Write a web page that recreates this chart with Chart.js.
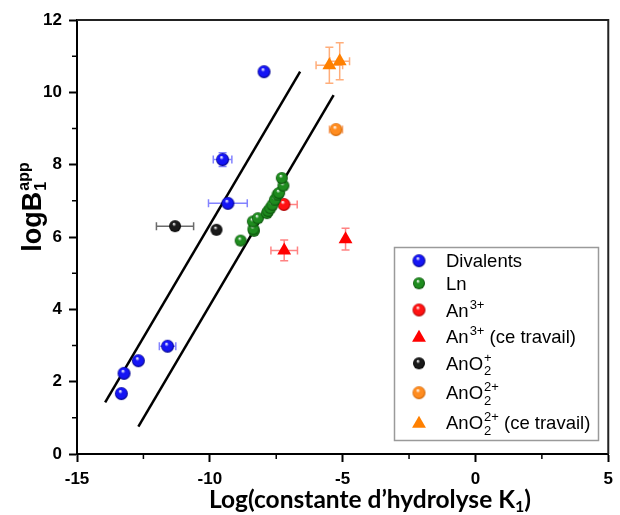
<!DOCTYPE html>
<html><head><meta charset="utf-8">
<script src="https://cdn.jsdelivr.net/npm/chart.js@4.4.1/dist/chart.umd.min.js"></script>
<style>html,body{margin:0;padding:0;background:#fff;}#wrap{width:620px;height:515px;position:relative;}</style>
</head><body><div id="wrap"><canvas id="c" width="620" height="515"></canvas></div>
<script>
// ---- axis ticks ----
const xTicks = [-15, -10, -5, 0, 5];
const yTicks = [0, 2, 4, 6, 8, 10, 12];
const xMinorTicks = [-12.5, -7.5, -2.5, 2.5];
const yMinorTicks = [1, 3, 5, 7, 9, 11];

// ---- Divalents ----
const divX    = [-7.96, -9.52, -9.32, -11.59, -12.69, -13.23, -13.33];
const divY    = [10.57, 8.14, 6.93, 2.98, 2.58, 2.23, 1.67];
const divErrX = [0, 0.35, 0.73, 0.31, 0, 0, 0];
const divErrY = [0, 0.19, 0, 0, 0, 0, 0];
// ---- Ln ----
const lnX = [-8.84, -8.34, -8.36, -8.38, -8.19, -7.85, -7.80, -7.72, -7.64, -7.55, -7.45, -7.39, -7.23, -7.29];
const lnY = [5.90, 6.17, 6.22, 6.43, 6.52, 6.66, 6.72, 6.80, 6.89, 7.03, 7.17, 7.22, 7.42, 7.63];
// ---- An3+ ----
const an3X = [-7.21];
const an3Y = [6.90];
const an3ErrX = [0.50];
// ---- An3+ (ce travail) ----
const an3tX = [-7.20, -4.89];
const an3tY = [5.63, 5.94];
const an3tErrX = [0.50, 0];
const an3tErrY = [0.29, 0.30];
// ---- AnO2+ ----
const ano2X = [-11.31, -9.75];
const ano2Y = [6.30, 6.20];
const ano2ErrX = [0.70, 0];
// ---- AnO2 2+ ----
const ano22X = [-5.25];
const ano22Y = [8.97];
const ano22ErrX = [0.25];
// ---- AnO2 2+ (ce travail) ----
const ano22tX = [-5.50, -5.11];
const ano22tY = [10.75, 10.86];
const ano22tErrX = [0.50, 0.37];
const ano22tErrY = [0.50, 0.51];
// ---- correlation lines ----
const line1X = [-13.94, -6.60];
const line1Y = [1.43, 10.57];
const line2X = [-12.69, -5.34];
const line2Y = [0.76, 9.92];

const legendItems = [
  [{t:'Divalents'}],
  [{t:'Ln'}],
  [{t:'An'},{sup:'3+'}],
  [{t:'An'},{sup:'3+'},{t:' (ce travail)'}],
  [{t:'AnO'},{sup:'+',sub:'2'}],
  [{t:'AnO'},{sup:'2+',sub:'2'}],
  [{t:'AnO'},{sup:'2+',sub:'2'},{t:' (ce travail)'}]
];

function pts(xs, ys){ return xs.map((x,i)=>({x:x, y:ys[i]})); }

function sphere(color, dark, r){
  const c = document.createElement('canvas');
  const s = Math.ceil(2*r+2); c.width = s; c.height = s;
  const g = c.getContext('2d');
  const cx = s/2, cy = s/2;
  const grad = g.createRadialGradient(cx - r*0.2, cy - r*0.4, r*0.05, cx, cy, r);
  grad.addColorStop(0, '#ffffff');
  grad.addColorStop(0.3, color);
  grad.addColorStop(0.75, color);
  grad.addColorStop(1, dark);
  g.fillStyle = grad; g.beginPath(); g.arc(cx, cy, r, 0, Math.PI*2); g.fill();
  return c;
}
const R = 6.5;
const sBlue = sphere('#1515f5', '#00007a', R);
const sGreen = sphere('#1f8c1f', '#0a4a0a', 6);
const sRed = sphere('#ff1212', '#a00000', R);
const sBlack = sphere('#1a1a1a', '#000000', 6);
const sOrange = sphere('#ff8c1f', '#c85f00', R);

const datasets = [
  {label:'Divalents', data: pts(divX, divY), pointStyle: sBlue, pointRadius: 6, errX: divErrX, errY: divErrY, errColor:'rgba(90,90,255,0.75)', mk:sBlue},
  {label:'Ln', data: pts(lnX, lnY), pointStyle: sGreen, pointRadius: 6, mk:sGreen},
  {label:'An3+', data: pts(an3X, an3Y), pointStyle: sRed, pointRadius: 6, errX: an3ErrX, errColor:'rgba(255,90,90,0.75)', mk:sRed},
  {label:'An3+ (ce travail)', data: pts(an3tX, an3tY), pointStyle:'triangle', pointRadius: 8, backgroundColor:'#ff0000', borderColor:'#ff0000', borderWidth:0, errX: an3tErrX, errY: an3tErrY, errColor:'rgba(255,90,90,0.75)', mk:'triR'},
  {label:'AnO2+', data: pts(ano2X, ano2Y), pointStyle: sBlack, pointRadius: 6, errX: ano2ErrX, errColor:'rgba(70,70,70,0.8)', mk:sBlack},
  {label:'AnO2 2+', data: pts(ano22X, ano22Y), pointStyle: sOrange, pointRadius: 6, errX: ano22ErrX, errColor:'rgba(255,160,100,0.8)', mk:sOrange},
  {label:'AnO2 2+ (ce travail)', data: pts(ano22tX, ano22tY), pointStyle:'triangle', pointRadius: 8, backgroundColor:'#ff8000', borderColor:'#ff8000', borderWidth:0, errX: ano22tErrX, errY: ano22tErrY, errColor:'rgba(255,160,100,0.85)', mk:'triO'},
  {label:'line1', data: pts(line1X, line1Y), showLine:true, pointRadius:0, borderColor:'#000', borderWidth:2.5, fill:false},
  {label:'line2', data: pts(line2X, line2Y), showLine:true, pointRadius:0, borderColor:'#000', borderWidth:2.5, fill:false}
];

const errPlugin = {
  id:'errbars',
  beforeDatasetsDraw(chart){
    const ctx = chart.ctx, xs = chart.scales.x, ys = chart.scales.y;
    const cap = 4;
    chart.data.datasets.forEach(ds=>{
      if(!ds.errX && !ds.errY) return;
      ctx.save(); ctx.strokeStyle = ds.errColor; ctx.lineWidth = 1.5;
      ds.data.forEach((p,i)=>{
        const px = xs.getPixelForValue(p.x), py = ys.getPixelForValue(p.y);
        const ex = ds.errX ? ds.errX[i] : 0, ey = ds.errY ? ds.errY[i] : 0;
        ctx.beginPath();
        if(ex > 0){
          const x1 = xs.getPixelForValue(p.x-ex), x2 = xs.getPixelForValue(p.x+ex);
          ctx.moveTo(x1,py); ctx.lineTo(x2,py);
          ctx.moveTo(x1,py-cap); ctx.lineTo(x1,py+cap);
          ctx.moveTo(x2,py-cap); ctx.lineTo(x2,py+cap);
        }
        if(ey > 0){
          const y1 = ys.getPixelForValue(p.y-ey), y2 = ys.getPixelForValue(p.y+ey);
          ctx.moveTo(px,y1); ctx.lineTo(px,y2);
          ctx.moveTo(px-cap,y1); ctx.lineTo(px+cap,y1);
          ctx.moveTo(px-cap,y2); ctx.lineTo(px+cap,y2);
        }
        ctx.stroke();
      });
      ctx.restore();
    });
  }
};

function drawRich(ctx, x, y, parts, size, bold){
  const w = bold ? 'bold ' : '';
  const fam = '"Liberation Sans", Arial, sans-serif';
  const small = Math.round(size*0.68);
  let cx = x;
  parts.forEach(p=>{
    if(p.t !== undefined){
      ctx.font = w + size + 'px ' + fam;
      ctx.fillText(p.t, cx, y);
      cx += ctx.measureText(p.t).width;
    } else {
      ctx.font = w + small + 'px ' + fam;
      let wd = 0;
      if(p.sup){ ctx.fillText(p.sup, cx+1, y - size*0.42); wd = Math.max(wd, ctx.measureText(p.sup).width); }
      if(p.sub){ ctx.fillText(p.sub, cx+1, y + size*0.3); wd = Math.max(wd, ctx.measureText(p.sub).width); }
      cx += wd + 1;
    }
  });
  return cx - x;
}

function triangle(ctx, x, y, r, color){
  ctx.fillStyle = color; ctx.beginPath();
  for(let k=0;k<3;k++){
    const a = k*2*Math.PI/3;
    const px = x + Math.sin(a)*r, py = y - Math.cos(a)*r;
    if(k===0) ctx.moveTo(px,py); else ctx.lineTo(px,py);
  }
  ctx.closePath(); ctx.fill();
}

const decorPlugin = {
  id:'decor',
  afterDraw(chart){
    const ctx = chart.ctx, a = chart.chartArea, xs = chart.scales.x, ys = chart.scales.y;
    ctx.save();
    // frame top & right
    ctx.strokeStyle = '#222'; ctx.lineWidth = 2;
    ctx.beginPath();
    ctx.moveTo(a.left, a.top); ctx.lineTo(a.right, a.top); ctx.lineTo(a.right, a.bottom);
    ctx.stroke();
    // minor ticks
    ctx.strokeStyle = '#000'; ctx.lineWidth = 1.5;
    ctx.beginPath();
    xMinorTicks.forEach(v=>{ const px = xs.getPixelForValue(v); ctx.moveTo(px, a.bottom); ctx.lineTo(px, a.bottom+5); });
    yMinorTicks.forEach(v=>{ const py = ys.getPixelForValue(v); ctx.moveTo(a.left, py); ctx.lineTo(a.left-5, py); });
    ctx.stroke();

    // legend box
    const lx = 394, ly = 247, lw = 204, lh = 193;
    ctx.fillStyle = '#fff'; ctx.fillRect(lx, ly, lw, lh);
    ctx.strokeStyle = '#9a9a9a'; ctx.lineWidth = 1.5;
    ctx.strokeRect(lx+0.5, ly+0.5, lw, lh);
    const rowY = [260.7, 283.3, 310, 336.7, 363.3, 392.7, 422.7];
    ctx.textBaseline = 'alphabetic'; ctx.textAlign = 'left';
    chart.data.datasets.slice(0,7).forEach((ds,i)=>{
      const my = rowY[i];
      if(ds.mk === 'triR') triangle(ctx, 419, my+1, 8, '#ff0000');
      else if(ds.mk === 'triO') triangle(ctx, 419, my+1, 8, '#ff8000');
      else ctx.drawImage(ds.mk, 419 - ds.mk.width/2, my - ds.mk.height/2);
      ctx.fillStyle = '#000';
      drawRich(ctx, 446, my + 6.5, legendItems[i], 18.5, false);
    });

    // x title
    ctx.fillStyle = '#000';
    const bigF = 'bold 24.5px Lato, "Open Sans", sans-serif';
    const subF = 'bold 16px Lato, "Open Sans", sans-serif';
    ctx.font = bigF;
    const t1 = 'Log(constante d\u2019hydrolyse K';
    const w1 = ctx.measureText(t1).width;
    ctx.font = subF;
    const w2 = ctx.measureText('1').width;
    ctx.font = bigF;
    const w3 = ctx.measureText(')').width;
    const total = w1 + w2 + w3;
    let sx = 370 - total/2;
    const by = 508;
    ctx.fillText(t1, sx, by); sx += w1;
    ctx.font = subF;
    ctx.fillText('1', sx, by + 4); sx += w2;
    ctx.font = bigF;
    ctx.fillText(')', sx, by);

    // y title (rotated)
    ctx.translate(41, 207);
    ctx.rotate(-Math.PI/2);
    const fam = '"Liberation Sans", Arial, sans-serif';
    ctx.font = 'bold 27px ' + fam;
    const wl = ctx.measureText('logB').width;
    ctx.font = 'bold 16px ' + fam;
    const ws = ctx.measureText('app').width;
    let tx = -(wl + ws + 1)/2;
    ctx.font = 'bold 27px ' + fam;
    ctx.fillText('logB', tx, 0); tx += wl + 1;
    ctx.font = 'bold 16px ' + fam;
    ctx.fillText('app', tx, -12);
    ctx.fillText('1', tx, 5);
    ctx.restore();
  }
};

const tickFont = {family:'"Liberation Sans", Arial, sans-serif', size:17, weight:'bold'};
new Chart(document.getElementById('c'), {
  type:'scatter',
  data:{datasets: datasets},
  options:{
    responsive:false, devicePixelRatio:1, animation:false,
    layout:{padding:{top:20, right:6, left:0, bottom:0}},
    plugins:{legend:{display:false}, tooltip:{enabled:false}},
    scales:{
      x:{type:'linear', min:-15, max:5,
        afterBuildTicks: s => { s.ticks = xTicks.map(v=>({value:v})); },
        ticks:{font:tickFont, color:'#000', padding:7, maxRotation:0, autoSkip:false},
        grid:{drawOnChartArea:false, tickLength:8, tickColor:'#000', tickWidth:2},
        border:{color:'#000', width:2},
        afterFit: s => { s.height = 61; }
      },
      y:{type:'linear', min:0, max:12,
        afterBuildTicks: s => { s.ticks = yTicks.map(v=>({value:v})); },
        ticks:{font:tickFont, color:'#000', padding:7, autoSkip:false},
        grid:{drawOnChartArea:false, tickLength:8, tickColor:'#000', tickWidth:2},
        border:{color:'#000', width:2},
        afterFit: s => { s.width = 77; }
      }
    }
  },
  plugins:[errPlugin, decorPlugin]
});
</script></body></html>
